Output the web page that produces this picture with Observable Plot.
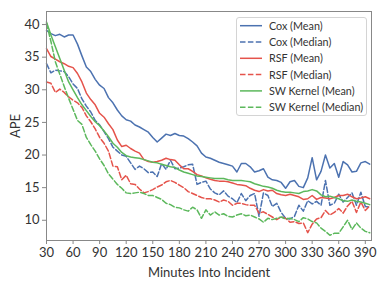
<!DOCTYPE html>
<html>
<head>
<meta charset="utf-8">
<script src="https://cdn.jsdelivr.net/npm/d3@7"></script>
<script src="https://cdn.jsdelivr.net/npm/@observablehq/plot@0.6"></script>
<style>
  body { margin: 0; background: #fff; }
  #wrap { position: relative; width: 382px; height: 287px; font-family: Lato, "DejaVu Sans", sans-serif; }
  #legend { position: absolute; left: 236px; top: 17px; width: 131px; height: 99px; box-sizing: border-box;
            border: 1px solid #d4d4d4; border-radius: 3px; background: rgba(255,255,255,0.85); }
  #legend svg { overflow: visible; }
</style>
</head>
<body>
<div id="wrap"><div id="chart"></div><div id="legend"></div></div>
<script>
const minutes = [30,35,40,45,50,55,60,65,70,75,80,85,90,95,100,105,110,115,120,125,130,135,140,145,150,155,160,165,170,175,180,185,190,195,200,205,210,215,220,225,230,235,240,245,250,255,260,265,270,275,280,285,290,295,300,305,310,315,320,325,330,335,340,345,350,355,360,365,370,375,380,385,390,395];

const coxMean = [39.1,38.6,38.3,38.5,38.1,38.4,38.4,37,35.2,33.5,32.8,31.6,30.7,30.2,28.8,28,26.9,26,25.4,25.2,24.6,24.3,23.9,23.5,22.7,22,22.6,23.2,23,23.3,23,22.9,22.5,22,21.4,20.3,19.7,19.5,19.2,18.9,18.7,18.5,18.3,17.4,18.7,18.7,18.2,17.4,17.6,17.9,16.6,16.2,16.1,15.8,14.9,15.9,16.1,15.2,15,16.5,19.6,16.2,17.5,20,18,18.7,16.6,19,18.5,17.4,17.5,18.8,19,18.6];
const coxMedian = [34,32.6,33,32.9,32.8,32,30.9,30.2,28.6,27.5,26.6,25.3,24.6,23.6,22.5,21.2,20.6,20,19.8,18.8,17.8,18.3,17.9,17.3,17.4,16.7,18.7,17.8,19.2,17.9,18,18.2,18.5,18.6,15.5,15.8,16,14.8,14.2,13.9,14.5,13.7,13.3,12.7,14.1,13,13.8,14.1,10.6,14.2,13.8,12.1,12.6,11.2,10.3,10.2,10.6,12.3,11.4,13,12.5,12.9,12.3,16.1,12.3,12.6,14,12.8,13.5,14.2,12.3,14.3,12.1,12];
const rsfMean = [36.3,35.1,34.7,34.3,34,33.6,33.4,32.5,31.2,29.5,28.5,27.7,26.4,25.8,24.8,23.9,22.3,21.3,21.5,21,20.6,20.3,19.3,19,18.9,19,19.2,19.5,19.3,19.2,18.5,17.9,17.9,17.5,17,16.8,16.5,16.3,16.1,16,16,15.9,15.7,15.5,15.4,15.3,14.9,14.6,14.4,14.7,14.5,14.6,14.1,13.9,13.8,14,13.8,13.6,13.2,13.3,13.8,13.2,13.5,13.4,13.3,13.5,13.8,13.8,14,13.6,13.3,13.4,13.6,13.3];
const rsfMedian = [31.2,31,29.6,30.1,29.6,28.9,28.4,28,27.3,26,25.1,24,22.7,21.8,20.6,18.3,18.2,16.2,16.9,15.6,15.5,14.8,14.2,14.4,14.7,15.1,15.4,15.9,16.1,15.8,15.4,15,14.4,14.1,13.8,13.5,13.3,13.3,13.1,12.8,13.1,12.9,12.3,12.6,12.6,12.4,12.3,12.3,11.1,11.3,10.9,10.5,10.1,10.5,10.3,9.7,9.8,9.5,9.6,8.1,9.4,10.2,10.4,11.5,10.8,11.2,11.8,11.1,12.2,12.9,11.2,12.8,11.5,12.2];
const swMean = [40.4,38.4,36.6,34.8,33,31.2,30,28.8,27.7,26.8,25.9,25.1,24.5,23.7,22.8,21.8,21.2,20.4,19.9,19.7,19.6,19.5,19.3,19.1,18.9,18.8,18.6,18.4,18.2,18.1,17.7,17.4,17.2,17,16.8,16.7,16.6,16.5,16.4,16.4,16.4,16.2,16.1,16.1,16.1,16,15.9,15.6,15.4,15.2,15.1,14.9,14.6,14.4,14.3,14.3,14.2,14.1,14.4,14.5,14.7,14.5,13.9,13.6,13.7,13.5,13.3,13,12.9,13.1,12.9,12.8,12.6,12.4];
const swMedian = [40.2,37.4,34.3,32.4,30.5,28.7,27,25.3,24.7,22.7,21.6,20.6,19.4,18.4,17.1,16.3,15.5,14.9,14.2,14.1,14.2,14.3,14.1,13.8,13.8,13.5,13.2,12.6,12.4,12,11.9,11.6,11.4,12,11.6,10.3,11.6,10.8,11.3,10.8,11,10.6,10.5,10.8,11,10.7,10.8,10.5,10.2,9.7,10.3,10.1,10.3,10.5,10.2,10.3,10.1,9.8,10.4,10.2,9.8,9.6,8.8,8.3,7.7,8,8,9,10,8.6,9.6,8.8,8.3,8.1];

const seriesNames = ["Cox (Mean)","Cox (Median)","RSF (Mean)","RSF (Median)","SW Kernel (Mean)","SW Kernel (Median)"];
const seriesValues = [coxMean, coxMedian, rsfMean, rsfMedian, swMean, swMedian];
const seriesColors = ["#4c72b0","#4c72b0","#e5534b","#e5534b","#5cb85c","#5cb85c"];
const seriesDash = [null,"5.5,2.4",null,"5.5,2.4",null,"5.5,2.4"];
const xTicks = [30,60,90,120,150,180,210,240,270,300,330,360,390];
const yTicks = [10,15,20,25,30,35,40];

const table = seriesNames.flatMap((name, i) => minutes.map((m, j) => ({series: name, minute: m, ape: seriesValues[i][j]})));

const lines = seriesNames.map((name, i) => Plot.line(table.filter(d => d.series === name), {
  x: "minute", y: "ape", stroke: seriesColors[i], strokeWidth: 1.5,
  strokeDasharray: seriesDash[i] || undefined
}));

const chart = Plot.plot({
  width: 382, height: 287,
  marginLeft: 46, marginRight: 11, marginTop: 11, marginBottom: 47,
  style: {fontFamily: "Lato, 'DejaVu Sans', sans-serif", fontSize: "13px", color: "#333", background: "#fff"},
  x: {domain: [30, 397]},
  y: {domain: [6.9, 42]},
  marks: [
    ...lines,
    Plot.frame({stroke: "#888", strokeWidth: 1}),
    Plot.axisX({ticks: xTicks, tickSize: 4, tickPadding: 3, stroke: "#888", fontSize: 13,
      label: "Minutes Into Incident", labelAnchor: "center", labelArrow: "none", labelOffset: 36}),
    Plot.axisY({ticks: yTicks, tickSize: 4, tickPadding: 3, stroke: "#888", fontSize: 13,
      label: "APE", labelAnchor: "center", labelArrow: "none", labelOffset: 36})
  ]
});
document.getElementById("chart").appendChild(chart);

// legend
const ns = "http://www.w3.org/2000/svg";
const lg = document.createElementNS(ns, "svg");
lg.setAttribute("width", 129); lg.setAttribute("height", 97);
seriesNames.forEach((name, i) => {
  const cy = 7.7 + i * 16.3;
  const ln = document.createElementNS(ns, "line");
  ln.setAttribute("x1", 3); ln.setAttribute("x2", 25); ln.setAttribute("y1", cy); ln.setAttribute("y2", cy);
  ln.setAttribute("stroke", seriesColors[i]); ln.setAttribute("stroke-width", 1.5);
  if (seriesDash[i]) ln.setAttribute("stroke-dasharray", seriesDash[i]);
  lg.appendChild(ln);
  const tx = document.createElementNS(ns, "text");
  tx.setAttribute("x", 32); tx.setAttribute("y", cy + 4);
  tx.setAttribute("font-size", 10.8); tx.setAttribute("fill", "#333");
  tx.setAttribute("font-family", "Lato, 'DejaVu Sans', sans-serif");
  tx.textContent = name;
  lg.appendChild(tx);
});
document.getElementById("legend").appendChild(lg);
</script>
</body>
</html>
